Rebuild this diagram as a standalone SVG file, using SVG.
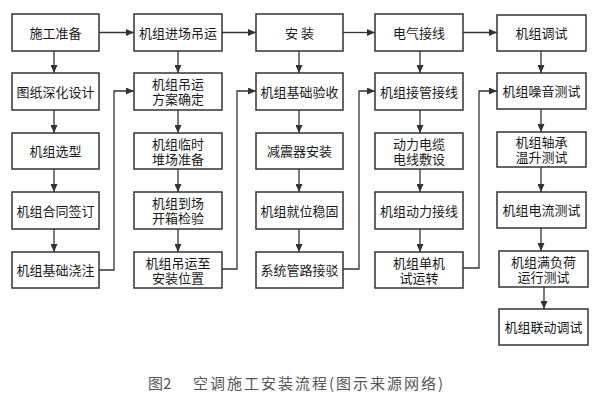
<svg xmlns="http://www.w3.org/2000/svg" width="609" height="410" viewBox="0 0 609 410">
<style>
.b{fill:#fff;stroke:#333;stroke-width:1.5}
.t{font-family:"Noto Sans CJK SC","Noto Sans",sans-serif;font-size:13px;fill:#1a1a1a;text-anchor:middle}
.c{fill:none;stroke:#333;stroke-width:1.3}
.cap{font-family:"Noto Sans CJK SC","Noto Sans",sans-serif;font-size:15px;fill:#555}
</style>
<defs>
<marker id="a" markerUnits="userSpaceOnUse" markerWidth="8" markerHeight="7" refX="8" refY="3.5" orient="auto">
<path d="M0,0 L8,3.5 L0,7 z" fill="#333"/>
</marker>
</defs>
<rect width="609" height="410" fill="#fff"/>
<g id="connectors">
<path class="c" marker-end="url(#a)" d="M99,32.5 H134"/>
<path class="c" marker-end="url(#a)" d="M222,32.5 H256"/>
<path class="c" marker-end="url(#a)" d="M343,32.5 H375"/>
<path class="c" marker-end="url(#a)" d="M463,32.5 H497"/>
<path class="c" marker-end="url(#a)" d="M54,51 V73"/>
<path class="c" marker-end="url(#a)" d="M54,110 V133"/>
<path class="c" marker-end="url(#a)" d="M54,169 V192"/>
<path class="c" marker-end="url(#a)" d="M54,229 V252"/>
<path class="c" marker-end="url(#a)" d="M178,51 V73"/>
<path class="c" marker-end="url(#a)" d="M178,110 V133"/>
<path class="c" marker-end="url(#a)" d="M178,169 V192"/>
<path class="c" marker-end="url(#a)" d="M178,229 V252"/>
<path class="c" marker-end="url(#a)" d="M299,51 V73"/>
<path class="c" marker-end="url(#a)" d="M299,110 V133"/>
<path class="c" marker-end="url(#a)" d="M299,169 V192"/>
<path class="c" marker-end="url(#a)" d="M299,229 V252"/>
<path class="c" marker-end="url(#a)" d="M420,51 V73"/>
<path class="c" marker-end="url(#a)" d="M420,110 V133"/>
<path class="c" marker-end="url(#a)" d="M420,169 V192"/>
<path class="c" marker-end="url(#a)" d="M420,229 V252"/>
<path class="c" marker-end="url(#a)" d="M541,51 V73"/>
<path class="c" marker-end="url(#a)" d="M541,109 V132"/>
<path class="c" marker-end="url(#a)" d="M541,167 V192"/>
<path class="c" marker-end="url(#a)" d="M541,228 V251"/>
<path class="c" marker-end="url(#a)" d="M544,287 V309"/>
<path class="c" marker-end="url(#a)" d="M99,270 H114 V91 H134"/>
<path class="c" marker-end="url(#a)" d="M222,269 H237 V91 H256"/>
<path class="c" marker-end="url(#a)" d="M343,269 H359 V91 H375"/>
<path class="c" marker-end="url(#a)" d="M463,268 H479 V91 H497"/>
</g>
<g id="n11"><rect class="b" x="12" y="14" width="87" height="37"/><text class="t" x="55.5" y="37.5">施工准备</text></g>
<g id="n12"><rect class="b" x="12" y="73" width="87" height="37"/><text class="t" x="55.5" y="96.5">图纸深化设计</text></g>
<g id="n13"><rect class="b" x="12" y="133" width="87" height="36"/><text class="t" x="55.5" y="156">机组选型</text></g>
<g id="n14"><rect class="b" x="12" y="192" width="87" height="37"/><text class="t" x="55.5" y="215.5">机组合同签订</text></g>
<g id="n15"><rect class="b" x="12" y="252" width="87" height="36"/><text class="t" x="55.5" y="275">机组基础浇注</text></g>

<g id="n21"><rect class="b" x="134" y="14" width="88" height="37"/><text class="t" x="178" y="37.5">机组进场吊运</text></g>
<g id="n22"><rect class="b" x="134" y="73" width="88" height="37"/><text class="t" x="178" y="89">机组吊运<tspan x="178" dy="15">方案确定</tspan></text></g>
<g id="n23"><rect class="b" x="134" y="133" width="88" height="36"/><text class="t" x="178" y="148.5">机组临时<tspan x="178" dy="15">堆场准备</tspan></text></g>
<g id="n24"><rect class="b" x="134" y="192" width="88" height="37"/><text class="t" x="178" y="208">机组到场<tspan x="178" dy="15">开箱检验</tspan></text></g>
<g id="n25"><rect class="b" x="134" y="252" width="88" height="36"/><text class="t" x="178" y="267.5">机组吊运至<tspan x="178" dy="15">安装位置</tspan></text></g>

<g id="n31"><rect class="b" x="256" y="14" width="87" height="37"/><text class="t" x="299.5" y="37.5">安 装</text></g>
<g id="n32"><rect class="b" x="256" y="73" width="87" height="37"/><text class="t" x="299.5" y="96.5">机组基础验收</text></g>
<g id="n33"><rect class="b" x="256" y="133" width="87" height="36"/><text class="t" x="299.5" y="156">减震器安装</text></g>
<g id="n34"><rect class="b" x="256" y="192" width="87" height="37"/><text class="t" x="299.5" y="215.5">机组就位稳固</text></g>
<g id="n35"><rect class="b" x="256" y="252" width="87" height="36"/><text class="t" x="299.5" y="275">系统管路接驳</text></g>

<g id="n41"><rect class="b" x="375" y="14" width="88" height="37"/><text class="t" x="419" y="37.5">电气接线</text></g>
<g id="n42"><rect class="b" x="375" y="73" width="88" height="37"/><text class="t" x="419" y="96.5">机组接管接线</text></g>
<g id="n43"><rect class="b" x="375" y="133" width="88" height="36"/><text class="t" x="419" y="148.5">动力电缆<tspan x="419" dy="15">电线敷设</tspan></text></g>
<g id="n44"><rect class="b" x="375" y="192" width="88" height="37"/><text class="t" x="419" y="215.5">机组动力接线</text></g>
<g id="n45"><rect class="b" x="375" y="252" width="88" height="36"/><text class="t" x="419" y="267.5">机组单机<tspan x="419" dy="15">试运转</tspan></text></g>

<g id="n51"><rect class="b" x="497" y="15" width="89" height="36"/><text class="t" x="541.5" y="38">机组调试</text></g>
<g id="n52"><rect class="b" x="497" y="73" width="89" height="36"/><text class="t" x="541.5" y="96">机组噪音测试</text></g>
<g id="n53"><rect class="b" x="497" y="132" width="89" height="35"/><text class="t" x="541.5" y="147">机组轴承<tspan x="541.5" dy="15">温升测试</tspan></text></g>
<g id="n54"><rect class="b" x="497" y="192" width="89" height="36"/><text class="t" x="541.5" y="215">机组电流测试</text></g>
<g id="n55"><rect class="b" x="499" y="251" width="89" height="36"/><text class="t" x="543.5" y="266.5">机组满负荷<tspan x="543.5" dy="15">运行测试</tspan></text></g>
<g id="n56"><rect class="b" x="499" y="309" width="89" height="36"/><text class="t" x="543.5" y="332">机组联动调试</text></g>

<text class="cap" x="148" y="389">图2</text>
<text class="cap" x="193" y="389" letter-spacing="2">空调施工安装流程(图示来源网络)</text>
</svg>
